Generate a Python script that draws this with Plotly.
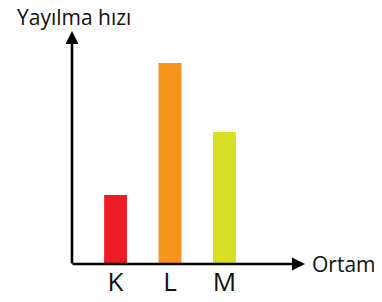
import plotly.graph_objects as go

categories = ["K", "L", "M"]
values = [69, 201, 132]
colors = ["#ED1C24", "#F7941D", "#D7DF23"]
y_label = "Yayılma hızı"
x_label = "Ortam"

OFF = 8  # default page body margin
W, H = 382 - OFF, 302 - OFF
L_M, T_M = 72 - OFF, 31 - OFF
R_M = W - (305 - OFF)
B_M = H - (264 - OFF)
plot_w = W - L_M - R_M
plot_h = H - T_M - B_M

fig = go.Figure(go.Bar(
    x=categories, y=values, marker_color=colors, width=0.42,
    marker_line_width=0,
))

fig.update_layout(
    width=W, height=H,
    margin=dict(l=L_M, r=R_M, t=T_M, b=B_M, pad=0, autoexpand=False),
    plot_bgcolor="white", paper_bgcolor="white",
    showlegend=False,
    font=dict(family="Open Sans", color="#111111"),
    xaxis=dict(range=[-0.8, 3.48], showgrid=False, zeroline=False,
               showline=False, ticks="", tickfont=dict(size=26),
               ticklabelstandoff=0, automargin=False),
    yaxis=dict(range=[0, 233], showgrid=False, zeroline=False,
               showline=False, showticklabels=False, ticks="",
               automargin=False),
)

# axis arrows
fig.add_annotation(xref="paper", yref="paper", x=0, y=1, ax=0, ay=plot_h + 1,
                   axref="pixel", ayref="pixel", text="", showarrow=True,
                   arrowhead=2, arrowsize=1.0, arrowwidth=2.6, arrowcolor="#000000",
                   standoff=0, startstandoff=0)
fig.add_annotation(xref="paper", yref="paper", x=1, y=0, ax=-plot_w - 1, ay=0,
                   axref="pixel", ayref="pixel", text="", showarrow=True,
                   arrowhead=2, arrowsize=1.0, arrowwidth=2.6, arrowcolor="#000000",
                   standoff=0, startstandoff=0)

fig.add_annotation(xref="paper", yref="paper", x=(73.5 - 72) / plot_w,
                   y=1 + (31 - 17) / plot_h,
                   xanchor="center", yanchor="middle",
                   text=y_label, showarrow=False, font=dict(size=21))
fig.add_annotation(xref="paper", yref="paper", x=1, y=0, xshift=5,
                   xanchor="left", yanchor="middle",
                   text=x_label, showarrow=False, font=dict(size=21))

fig.write_html("out.html")
